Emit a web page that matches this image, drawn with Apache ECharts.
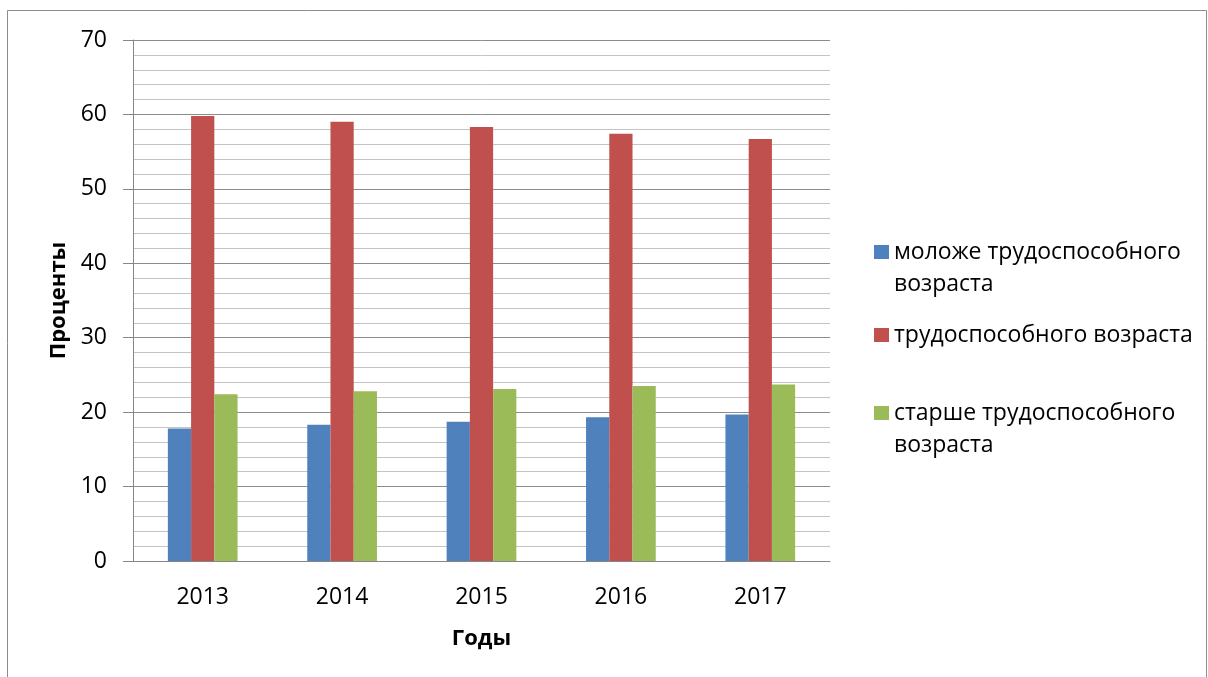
<!DOCTYPE html>
<html>
<head>
<meta charset="utf-8">
<script src="https://cdn.jsdelivr.net/npm/echarts@6/dist/echarts.min.js"></script>
<style>
html,body{margin:0;padding:0;background:#fff;}
#chart{width:1208px;height:677px;}
</style>
</head>
<body>
<div id="chart"></div>
<script>
const categories = ['2013', '2014', '2015', '2016', '2017'];
const seriesNames = ['моложе трудоспособного\nвозраста', 'трудоспособного возраста', 'старше трудоспособного\nвозраста'];
const youngerValues = [17.8, 18.3, 18.7, 19.3, 19.7];
const workingValues = [59.8, 59.0, 58.3, 57.4, 56.7];
const olderValues = [22.4, 22.8, 23.1, 23.5, 23.7];
const yTicks = [0, 10, 20, 30, 40, 50, 60, 70];

const FONT = 'Open Sans';
const chart = echarts.init(document.getElementById('chart'), null, {renderer: 'canvas'});

function legendFor(name, top, twoLine) {
  return {
    data: [name],
    left: 874,
    top: top,
    orient: 'vertical',
    padding: 0,
    itemWidth: 15,
    itemHeight: 14,
    itemGap: 8,
    icon: 'rect',
    selectedMode: false,
    formatter: function (n) { return twoLine ? '\n' + n : n; },
    textStyle: {
      fontFamily: FONT,
      fontSize: 23,
      color: '#000',
      lineHeight: 32
    }
  };
}

chart.setOption({
  animation: false,
  backgroundColor: '#fff',
  color: ['#4F81BD', '#C0504D', '#9BBB59'],
  grid: {left: 133, right: 378, top: 40, bottom: 116, containLabel: false},
  graphic: [{
    type: 'polyline',
    shape: {points: [[7.5, 677], [7.5, 10.5], [1206.5, 10.5], [1206.5, 677]]},
    style: {stroke: '#8C8C8C', lineWidth: 1, fill: null},
    silent: true
  }],
  legend: [
    legendFor(seriesNames[0], 204, true),
    legendFor(seriesNames[1], 319, false),
    legendFor(seriesNames[2], 365, true)
  ],
  xAxis: {
    type: 'category',
    data: categories,
    name: 'Годы',
    nameLocation: 'middle',
    nameGap: 67,
    nameTextStyle: {fontFamily: FONT, fontSize: 22, fontWeight: 'bold', color: '#000'},
    axisLine: {lineStyle: {color: '#868686', width: 1}},
    axisTick: {show: false},
    axisLabel: {fontFamily: FONT, fontSize: 23, color: '#000', margin: 25},
    splitLine: {show: false}
  },
  yAxis: {
    type: 'value',
    min: yTicks[0],
    max: yTicks[yTicks.length - 1],
    interval: 10,
    name: 'Проценты',
    nameLocation: 'middle',
    nameGap: 63,
    nameRotate: 90,
    nameTextStyle: {fontFamily: FONT, fontSize: 22, fontWeight: 'bold', color: '#000'},
    axisLine: {show: true, lineStyle: {color: '#868686', width: 1}},
    axisTick: {show: true, inside: false, length: 10, lineStyle: {color: '#868686'}},
    axisLabel: {fontFamily: FONT, fontSize: 23, color: '#000', margin: 26},
    splitLine: {show: true, lineStyle: {color: '#8C8C8C', width: 1}},
    minorTick: {show: false, splitNumber: 5},
    minorSplitLine: {show: true, lineStyle: {color: '#C4C4C4', width: 1}}
  },
  series: [
    {name: seriesNames[0], type: 'bar', data: youngerValues, barGap: '0%', barCategoryGap: '50%'},
    {name: seriesNames[1], type: 'bar', data: workingValues, barGap: '0%', barCategoryGap: '50%'},
    {name: seriesNames[2], type: 'bar', data: olderValues, barGap: '0%', barCategoryGap: '50%'}
  ]
});
</script>
</body>
</html>
